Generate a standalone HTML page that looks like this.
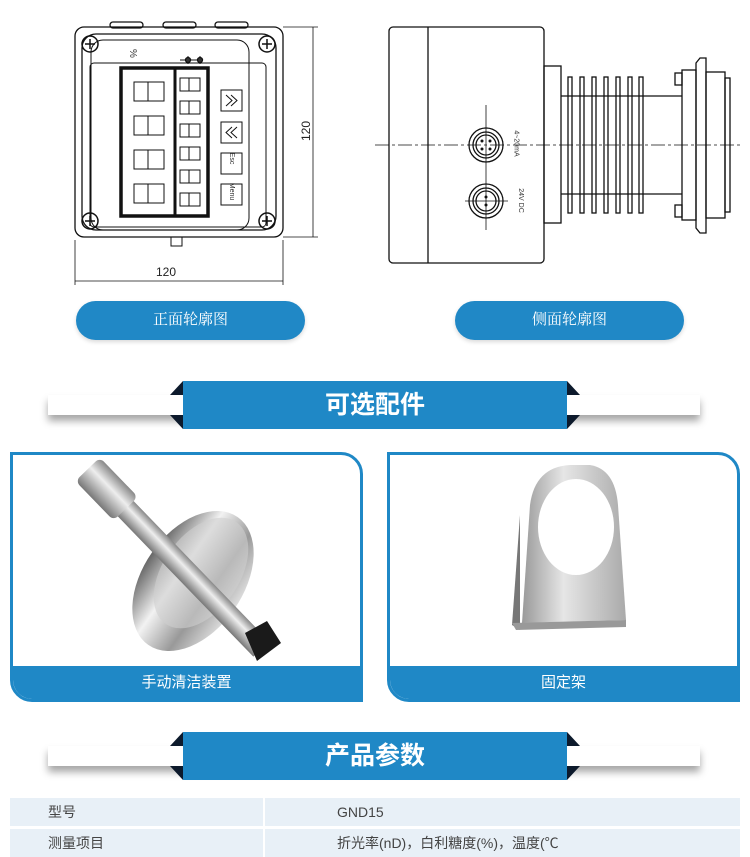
<!DOCTYPE html>
<html><head><meta charset="utf-8"><style>
*{margin:0;padding:0;box-sizing:border-box}
body{width:750px;height:853px;background:#fff;position:relative;overflow:hidden;font-family:"Liberation Sans","Noto Sans CJK SC",sans-serif}
.abs{position:absolute}
.pill{position:absolute;height:39px;border-radius:20px;background:#2088c6;color:#fff;font-size:15px;text-align:center;line-height:39px;font-family:"Liberation Serif","Noto Serif CJK SC",serif;box-shadow:0 2px 4px rgba(0,0,0,.15)}
.bar{position:absolute;left:48px;width:652px;height:20px;background:#fff;box-shadow:0 6px 8px rgba(0,0,0,.35)}
.ban{position:absolute;left:183px;width:384px;height:48px;background:#1f88c6;color:#fff;font-size:25px;font-weight:bold;text-align:center;line-height:48px}
.card{position:absolute;top:452px;width:353px;height:250px;border:3px solid #1f88c6;border-radius:0 22px 0 22px;overflow:hidden;background:#fff}
.cap{position:absolute;left:0;right:0;bottom:0;height:33px;background:#1f88c6;color:#fff;font-size:15px;text-align:center;line-height:33px}
.row{position:absolute;left:10px;width:730px;height:28px;font-size:14px;color:#444}
.row div{position:absolute;top:0;height:28px;line-height:28px;background:#e8f0f7}
</style></head><body>
<svg class="abs" style="left:0;top:0" width="750" height="290" fill="none" stroke="#111" stroke-width="1.3">
<rect x="110" y="22" width="33" height="6" rx="3"/><rect x="163" y="22" width="33" height="6" rx="3"/><rect x="215" y="22" width="33" height="6" rx="3"/>
<rect x="75" y="27" width="208" height="210" rx="9"/>
<rect x="82" y="34" width="194" height="196" rx="14"/>
<rect x="91" y="40" width="158" height="190" rx="12" stroke-width="1"/>
<rect x="90" y="63" width="176" height="164" rx="4" stroke-width="1"/>
<g stroke-width="1.5"><circle cx="90" cy="44" r="8"/><circle cx="267" cy="44" r="8"/><circle cx="90" cy="221" r="8"/><circle cx="267" cy="221" r="8"/>
<path d="M85 44h10M90 39v10M262 44h10M267 39v10M85 221h10M90 216v10M262 221h10M267 216v10"/></g>
<rect x="121" y="68" width="87" height="148" stroke-width="3.5"/>
<line x1="175" y1="68" x2="175" y2="216" stroke-width="3"/>
<g stroke-width="1"><rect x="134" y="82" width="30" height="19"/><line x1="148" y1="82" x2="148" y2="101"/>
<rect x="134" y="116" width="30" height="19"/><line x1="148" y1="116" x2="148" y2="135"/>
<rect x="134" y="150" width="30" height="19"/><line x1="148" y1="150" x2="148" y2="169"/>
<rect x="134" y="184" width="30" height="19"/><line x1="148" y1="184" x2="148" y2="203"/>
<rect x="180" y="78" width="20" height="13"/><line x1="189" y1="78" x2="189" y2="91"/>
<rect x="180" y="101" width="20" height="13"/><line x1="189" y1="101" x2="189" y2="114"/>
<rect x="180" y="124" width="20" height="13"/><line x1="189" y1="124" x2="189" y2="137"/>
<rect x="180" y="147" width="20" height="13"/><line x1="189" y1="147" x2="189" y2="160"/>
<rect x="180" y="170" width="20" height="13"/><line x1="189" y1="170" x2="189" y2="183"/>
<rect x="180" y="193" width="20" height="13"/><line x1="189" y1="193" x2="189" y2="206"/>
<rect x="221" y="90" width="21" height="21"/><rect x="221" y="122" width="21" height="21"/><rect x="221" y="153" width="21" height="21"/><rect x="221" y="184" width="21" height="21"/>
<path d="M226 95l6 5.5-6 5.5M231 95l6 5.5-6 5.5M237 127l-6 5.5 6 5.5M232 127l-6 5.5 6 5.5"/>
<path d="M180 60h23M188 56v8M200 56v8"/></g>
<circle cx="188" cy="60" r="2.5" fill="#333"/><circle cx="200" cy="60" r="2.5" fill="#333"/>
<rect x="171" y="237" width="11" height="9" stroke-width="1"/>
<g stroke-width="0.8"><line x1="75" y1="240" x2="75" y2="285"/><line x1="283" y1="240" x2="283" y2="285"/><line x1="75" y1="281" x2="283" y2="281"/>
<line x1="283" y1="27" x2="318" y2="27"/><line x1="283" y1="237" x2="318" y2="237"/><line x1="313" y1="27" x2="313" y2="237"/></g>
<rect x="389" y="27" width="155" height="236" rx="4"/>
<line x1="428" y1="27" x2="428" y2="263"/>
<rect x="544" y="66" width="17" height="157"/>
<line x1="561" y1="96" x2="682" y2="96"/><line x1="561" y1="194" x2="682" y2="194"/>
<g><rect x="568" y="77" width="4" height="136"/><rect x="580" y="77" width="4" height="136"/><rect x="592" y="77" width="4" height="136"/><rect x="604" y="77" width="4" height="136"/><rect x="616" y="77" width="4" height="136"/><rect x="628" y="77" width="4" height="136"/><rect x="639" y="77" width="4" height="136"/></g>
<rect x="682" y="70" width="14" height="150"/>
<path d="M696 63l4-5h6v175h-6l-4-5z"/>
<rect x="706" y="72" width="19" height="146"/><rect x="725" y="78" width="5" height="134"/>
<rect x="675" y="73" width="7" height="12"/><rect x="675" y="205" width="7" height="12"/>
<circle cx="486" cy="145" r="17"/><circle cx="486" cy="145" r="13"/><circle cx="486" cy="145" r="10"/>
<circle cx="486" cy="201" r="17"/><circle cx="486" cy="201" r="13"/><circle cx="486" cy="201" r="10"/>
<g fill="#111" stroke="none"><circle cx="482" cy="141" r="1.5"/><circle cx="490" cy="141" r="1.5"/><circle cx="482" cy="149" r="1.5"/><circle cx="490" cy="149" r="1.5"/><circle cx="486" cy="197" r="1.5"/><circle cx="486" cy="205" r="1.5"/></g>
<g stroke-width="0.8"><line x1="486" y1="105" x2="486" y2="230"/><line x1="465" y1="201" x2="508" y2="201"/>
<line x1="375" y1="145" x2="740" y2="145" stroke-dasharray="14 3 3 3"/></g>
</svg>
<div class="abs" style="left:156px;top:265px;font-size:12px;color:#222">120</div>
<div class="abs" style="left:296px;top:124px;font-size:12px;color:#222;transform:rotate(-90deg)">120</div>
<div class="abs" style="left:128px;top:48px;font-size:10px;color:#333;transform:rotate(90deg)">%</div>
<div class="abs" style="left:221px;top:155px;font-size:7px;color:#333;transform:rotate(90deg);width:21px;text-align:center">Esc</div>
<div class="abs" style="left:219px;top:188px;font-size:7px;color:#333;transform:rotate(90deg);width:25px;text-align:center">Menu</div>
<div class="abs" style="left:503px;top:140px;font-size:7px;color:#333;transform:rotate(90deg)">4~20mA</div>
<div class="abs" style="left:508px;top:197px;font-size:7px;color:#333;transform:rotate(90deg)">24V DC</div>
<div class="pill" style="left:76px;top:301px;width:229px">正面轮廓图</div>
<div class="pill" style="left:455px;top:301px;width:229px">侧面轮廓图</div>

<div class="bar" style="top:395px"></div>
<svg class="abs" style="left:170px;top:381px" width="410" height="48"><path d="M13 0L0 14h13zM13 48L0 34h13zM397 0l13 14h-13zM397 48l13-14h-13z" fill="#0d1a2c"/></svg>
<div class="ban" style="top:381px">可选配件</div>

<div class="card" style="left:10px">
<svg class="abs" style="left:0;top:0" width="350" height="215">
<defs><linearGradient id="m" x1="0" x2="1"><stop offset="0" stop-color="#666"/><stop offset=".35" stop-color="#f2f2f2"/><stop offset=".7" stop-color="#999"/><stop offset="1" stop-color="#ddd"/></linearGradient>
<linearGradient id="r" x1="0" x2="0" y1="0" y2="1"><stop offset="0" stop-color="#888"/><stop offset=".4" stop-color="#eee"/><stop offset="1" stop-color="#777"/></linearGradient></defs>
<ellipse cx="180" cy="126" rx="50" ry="78" fill="url(#m)" transform="rotate(35 180 126)"/>
<ellipse cx="188" cy="118" rx="38" ry="62" fill="#cfcfcf" opacity=".6" transform="rotate(35 188 118)"/>
<g transform="rotate(46 85 25)"><rect x="85" y="14" width="235" height="22" fill="url(#r)"/><rect x="70" y="8" width="55" height="34" rx="6" fill="url(#r)"/></g>
<path d="M232 178l22-12 14 22-24 18z" fill="#1a1a1a"/>
</svg>
<div class="cap">手动清洁装置</div></div>
<div class="card" style="left:387px">
<svg class="abs" style="left:0;top:0" width="350" height="215">
<defs><linearGradient id="b" x1="0" x2="1"><stop offset="0" stop-color="#999"/><stop offset=".4" stop-color="#e6e6e6"/><stop offset="1" stop-color="#aaa"/></linearGradient></defs>
<path d="M130 60l-8 110 8 5z" fill="#777"/>
<path d="M140 50 Q145 12 180 10 L200 10 Q225 14 228 50 L236 165 L132 168 Z" fill="url(#b)"/>
<ellipse cx="186" cy="72" rx="38" ry="48" fill="#fff"/>
<path d="M122 168l114-3 0 7-110 3z" fill="#999"/>
</svg>
<div class="cap">固定架</div></div>

<div class="bar" style="top:746px"></div>
<svg class="abs" style="left:170px;top:732px" width="410" height="48"><path d="M13 0L0 14h13zM13 48L0 34h13zM397 0l13 14h-13zM397 48l13-14h-13z" fill="#0d1a2c"/></svg>
<div class="ban" style="top:732px">产品参数</div>

<div class="row" style="top:798px"><div style="left:0;width:253px;padding-left:38px">型号</div><div style="left:255px;width:475px;padding-left:72px">GND15</div></div>
<div class="row" style="top:829px"><div style="left:0;width:253px;padding-left:38px">测量项目</div><div style="left:255px;width:475px;padding-left:72px">折光率(nD)，白利糖度(%)，温度(℃</div></div>
</body></html>
